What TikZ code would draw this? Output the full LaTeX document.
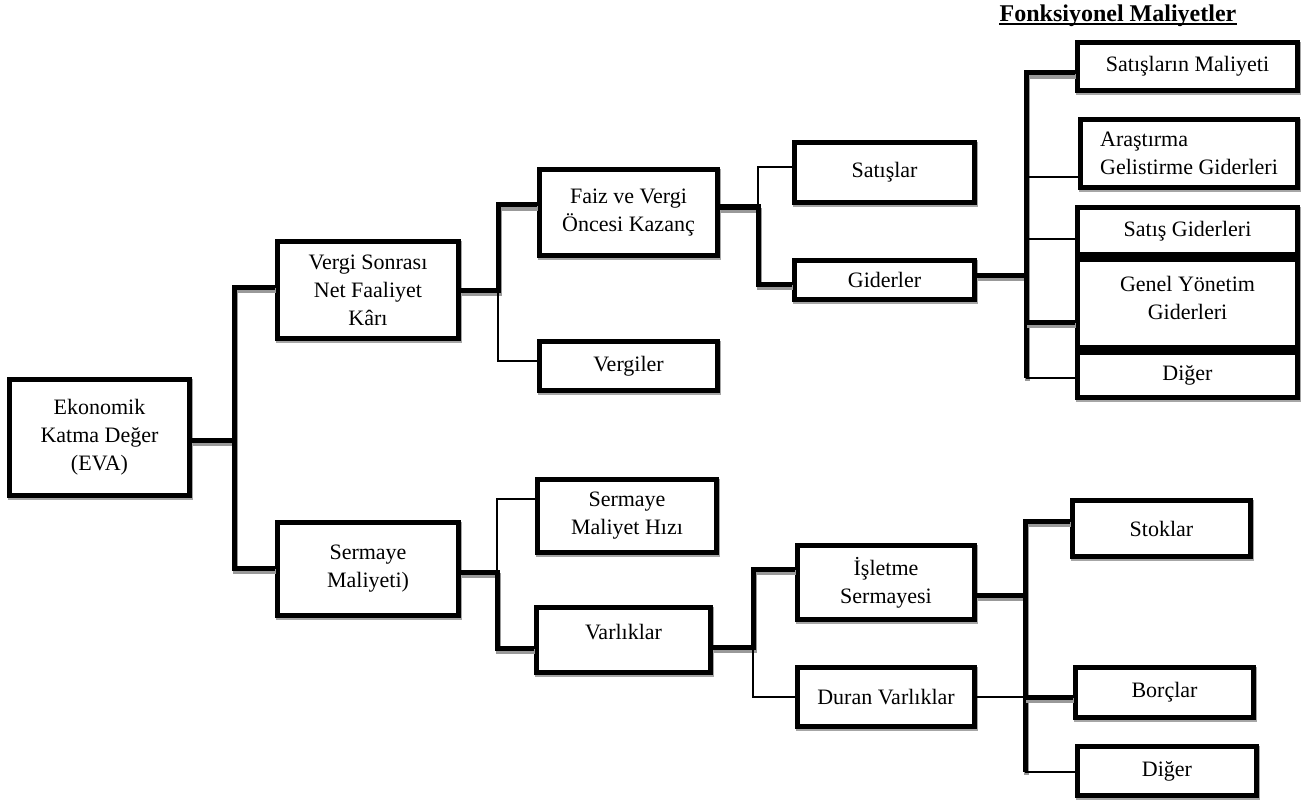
\documentclass[tikz,border=0pt]{standalone}
\usepackage{fontspec}
\setmainfont{Liberation Serif}
\usepackage{tikz}
\usetikzlibrary{positioning}
\newcommand{\boxfont}{\fontsize{11}{14}\selectfont}
\tikzset{
  evabox/.style={draw, line width=2.5pt, fill=white, align=center, inner sep=2pt,
    preaction={draw=black!35, line width=2.5pt, transform canvas={shift={(0.5pt,-0.8pt)}}}},
  thickconn/.style={line width=2.5pt, preaction={draw=black!40, line width=2.5pt, transform canvas={shift={(0.6pt,-1.6pt)}}}},
  thinconn/.style={line width=0.7pt}
}
\begin{document}
\begin{tikzpicture}[x=0.5pt, y=-0.5pt, every node/.style={font=\boxfont}]
  \useasboundingbox (0,0) rectangle (1304,802);
  % title
  \node[font=\bfseries\fontsize{12}{14}\selectfont, inner sep=0pt, anchor=base] (title) at (1118,22) {Fonksiyonel Maliyetler};
  \draw[line width=0.6pt] ([yshift=-1pt]title.base west) -- ([yshift=-1pt]title.base east);

  % boxes
  \node[evabox, minimum width=90pt, minimum height=58pt] (eva) at (99.5,437.5) {Ekonomik\\Katma Değer\\(EVA)};
  \node[evabox, minimum width=90.5pt, minimum height=48.5pt] (vs) at (368,290) {Vergi Sonrası\\Net Faaliyet\\Kârı};
  \node[evabox, minimum width=90.5pt, minimum height=46.5pt] (sm) at (368,569) {Sermaye\\Maliyeti)};
  \node[evabox, minimum width=89pt, minimum height=43pt] (fv) at (628.5,212.5) {Faiz ve Vergi\\Öncesi Kazanç};
  \node[evabox, minimum width=89pt, minimum height=24.5pt] (vergi) at (628.5,366) {Vergiler};
  \node[evabox, minimum width=89.5pt, minimum height=36.5pt] (smh) at (627,516) {Sermaye\\Maliyet Hızı};
  \node[evabox, minimum width=87pt, minimum height=32.5pt] (varlik) at (623.5,640) {Varlıklar\\[-6pt]\mbox{}};
  \node[evabox, minimum width=90pt, minimum height=30pt] (satis) at (884.5,172.5) {Satışlar};
  \node[evabox, minimum width=90pt, minimum height=19.5pt] (gider) at (884.5,280) {Giderler};
  \node[evabox, minimum width=88.5pt, minimum height=37pt] (isl) at (886,582.5) {İşletme\\Sermayesi};
  \node[evabox, minimum width=88.5pt, minimum height=29.5pt] (duran) at (886,697) {Duran Varlıklar};
  \node[evabox, minimum width=110pt, minimum height=24pt] (smal) at (1187.5,66.5) {Satışların Maliyeti};
  \node[evabox, minimum width=108.5pt, minimum height=34pt, align=left] (arge) at (1189,153.5) {Araştırma\\Gelistirme Giderleri};
  \node[evabox, minimum width=110pt, minimum height=23.5pt] (sgid) at (1187.5,231) {Satış Giderleri};
  \node[evabox, minimum width=110pt, minimum height=44pt] (genel) at (1187.5,303.5) {Genel Yönetim\\Giderleri\\[-8pt]\mbox{}};
  \node[evabox, minimum width=110pt, minimum height=22.5pt] (diger1) at (1187.5,375) {Diğer};
  \node[evabox, minimum width=89pt, minimum height=28pt] (stok) at (1161.5,528.5) {Stoklar};
  \node[evabox, minimum width=89pt, minimum height=25pt] (borc) at (1164.5,692.5) {Borçlar};
  \node[evabox, minimum width=89.5pt, minimum height=24.5pt] (diger2) at (1167,771) {Diğer};

  % junction points
  \coordinate (r0) at (234,440);
  \coordinate (r1) at (234,287);
  \coordinate (r2) at (234,568);
  \coordinate (a0) at (498,290);
  \coordinate (a1) at (498,205);
  \coordinate (a2) at (498,361);
  \coordinate (b0) at (758,207);
  \coordinate (b1) at (758,167);
  \coordinate (b2) at (758,284);
  \coordinate (g0) at (1026,275);
  \coordinate (g1) at (1026,73);
  \coordinate (g2) at (1026,177);
  \coordinate (g3) at (1026,239);
  \coordinate (g4) at (1026,322);
  \coordinate (g5) at (1026,378);
  \coordinate (c0) at (497,572);
  \coordinate (c1) at (497,499);
  \coordinate (c2) at (497,648);
  \coordinate (d0) at (753,647);
  \coordinate (d1) at (753,569);
  \coordinate (d2) at (753,697);
  \coordinate (e0) at (1025,595);
  \coordinate (e1) at (1025,521);
  \coordinate (e2) at (1025,697);
  \coordinate (e3) at (1025,772);

  % EVA
  \draw[thickconn] (r0 -| eva.east) -- (r0);
  \draw[thickconn] (r1 -| vs.west) -- (r1) -- (r2) -- (r2 -| sm.west);
  % vergi sonrasi
  \draw[thickconn] (a0 -| vs.east) -- (a0) -- (a1) -- (a1 -| fv.west);
  \draw[thinconn] (a0) -- (a2) -- (a2 -| vergi.west);
  % faiz ve vergi
  \draw[thickconn] (b0 -| fv.east) -- (b0) -- (b2) -- (b2 -| gider.west);
  \draw[thinconn] (b0) -- (b1) -- (b1 -| satis.west);
  % giderler
  \draw[thickconn] (g0 -| gider.east) -- (g0);
  \draw[thickconn] (g1 -| smal.west) -- (g1) -- (g5);
  \draw[thickconn] (g4) -- (g4 -| genel.west);
  \draw[thinconn] (g2) -- (g2 -| arge.west);
  \draw[thinconn] (g3) -- (g3 -| sgid.west);
  \draw[thinconn] (g5) -- (g5 -| diger1.west);
  % sermaye
  \draw[thickconn] (c0 -| sm.east) -- (c0) -- (c2) -- (c2 -| varlik.west);
  \draw[thinconn] (c0) -- (c1) -- (c1 -| smh.west);
  % varliklar
  \draw[thickconn] (d0 -| varlik.east) -- (d0) -- (d1) -- (d1 -| isl.west);
  \draw[thinconn] (d0) -- (d2) -- (d2 -| duran.west);
  % isletme sermayesi
  \draw[thickconn] (e0 -| isl.east) -- (e0);
  \draw[thickconn] (e1 -| stok.west) -- (e1) -- (e3);
  \draw[thickconn] (e2) -- (e2 -| borc.west);
  \draw[thinconn] (e2 -| duran.east) -- (e2);
  \draw[thinconn] (e3) -- (e3 -| diger2.west);
\end{tikzpicture}
\end{document}
